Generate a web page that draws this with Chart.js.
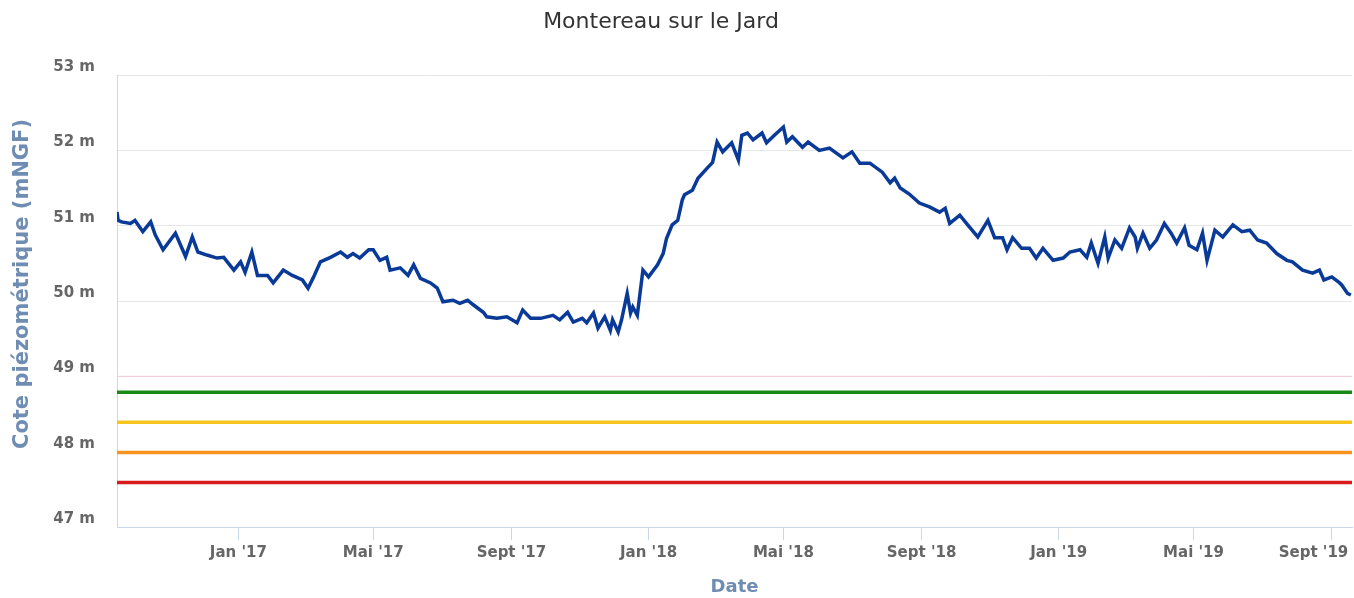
<!DOCTYPE html>
<html lang="fr">
<head>
<meta charset="utf-8">
<title>Montereau sur le Jard</title>
<script src="https://cdn.jsdelivr.net/npm/chart.js@4/dist/chart.umd.min.js"></script>
<style>
  html, body { margin: 0; padding: 0; background: #fff; }
  #wrap { width: 1354px; height: 598px; position: relative; }
</style>
</head>
<body>
<div id="wrap"><canvas id="piezoChart"></canvas></div>
<script>
// jours depuis le 1er janvier 2017
const jours = [
  -108, -107, -104, -96, -92, -85, -78, -74, -67, -56, -47, -41, -36, -28, -19, -13, -4,
  2, 6, 12, 17, 26, 31, 40, 48, 57, 62, 67, 73, 82, 91, 97, 102, 108, 116, 120, 126, 132, 135,
  144, 151, 156, 162, 171, 177, 182, 191, 197, 204, 209, 218, 221, 230, 239, 248, 253, 260,
  269, 280, 286, 293, 298, 306, 310, 316, 320, 326, 331, 333, 338, 341, 346, 349, 351, 355,
  360, 365, 373, 378, 381, 386, 391, 395, 397, 404, 409, 417, 422, 426, 431, 439, 445, 448,
  453, 458, 466, 470, 477, 485, 488, 493, 502, 507, 517, 526, 538, 546, 553, 562, 573, 580,
  584, 589, 597, 606, 615, 624, 629, 633, 642, 649, 658, 667, 673, 680, 684, 689, 697, 704,
  710, 716, 725, 734, 740, 749, 755, 759, 765, 771, 774, 780, 786, 793, 798, 800, 805, 811,
  817, 824, 830, 835, 842, 846, 853, 858, 862, 869, 876, 885, 893, 900, 907, 915, 924, 933,
  938, 947, 956, 962, 966, 973, 980, 982, 987, 990
];
// cote piézométrique (m NGF)
const cotes = [
  51.18, 51.07, 51.05, 51.03, 51.07, 50.92, 51.05, 50.88, 50.68, 50.90, 50.59, 50.85, 50.65, 50.61, 50.57, 50.58, 50.41,
  50.52, 50.38, 50.65, 50.34, 50.34, 50.24, 50.41, 50.34, 50.28, 50.17, 50.32, 50.52, 50.58, 50.65, 50.58, 50.63, 50.57, 50.68, 50.68, 50.54, 50.58, 50.41,
  50.44, 50.34, 50.48, 50.30, 50.24, 50.17, 49.99, 50.01, 49.97, 50.01, 49.95, 49.85, 49.79, 49.77, 49.79, 49.71, 49.88, 49.77,
  49.77, 49.81, 49.75, 49.85, 49.72, 49.77, 49.71, 49.84, 49.64, 49.79, 49.61, 49.75, 49.59, 49.75, 50.10, 49.84, 49.92, 49.81,
  50.41, 50.32, 50.48, 50.63, 50.83, 51.01, 51.07, 51.34, 51.41, 51.47, 51.63, 51.76, 51.84, 52.11, 51.98, 52.10, 51.87, 52.20,
  52.23, 52.14, 52.23, 52.10, 52.20, 52.31, 52.11, 52.18, 52.04, 52.11, 52.00, 52.03, 51.90, 51.98, 51.83, 51.83, 51.71, 51.57,
  51.63, 51.50, 51.42, 51.30, 51.25, 51.18, 51.23, 51.03, 51.14, 51.01, 50.85, 51.07, 50.84, 50.84, 50.68, 50.84, 50.70, 50.70,
  50.57, 50.70, 50.54, 50.57, 50.65, 50.68, 50.58, 50.77, 50.50, 50.85, 50.57, 50.81, 50.70, 50.97, 50.85, 50.70, 50.90, 50.70,
  50.81, 51.03, 50.90, 50.77, 50.97, 50.74, 50.68, 50.90, 50.54, 50.94, 50.85, 51.01, 50.92, 50.94, 50.81, 50.77, 50.63, 50.54,
  50.52, 50.41, 50.37, 50.41, 50.28, 50.32, 50.24, 50.21, 50.10, 50.08
];

// seuils de vigilance / alerte / alerte renforcée / crise
const seuils = [48.79, 48.39, 47.99, 47.59];
const couleursSeuils = ['#178a17', '#f7c51b', '#f7931e', '#d81b1b'];

// graduations de l'axe des dates
const tickJours = [0, 120, 243, 365, 485, 608, 730, 850, 973];
const tickLabels = ["Jan '17", "Mai '17", "Sept '17", "Jan '18", "Mai '18", "Sept '18", "Jan '19", "Mai '19", "Sept '19"];

const debut = -108;
const fin = 991;
const fontFamily = "'DejaVu Sans', Verdana, sans-serif";

const serie = jours.map((j, i) => ({ x: j, y: cotes[i] }));

const datasets = [{
    label: 'Cote piézométrique',
    data: serie,
    borderColor: '#0a3a98',
    borderWidth: 3.5,
    pointRadius: 0,
    tension: 0,
    fill: false
}];
// fine ligne rose à 49 m
datasets.push({
    label: 'repère',
    data: [{ x: debut, y: 49.0 }, { x: fin, y: 49.0 }],
    borderColor: '#f8c8d4',
    borderWidth: 1,
    pointRadius: 0
});
seuils.forEach((s, i) => {
    datasets.push({
        label: 'seuil ' + s,
        data: [{ x: debut, y: s }, { x: fin, y: s }],
        borderColor: couleursSeuils[i],
        borderWidth: 3.5,
        pointRadius: 0
    });
});

// titre du graphique et titre de l'axe vertical, placés à la main
const titresPlugin = {
    id: 'titres',
    afterDraw(chart) {
        const ctx = chart.ctx;
        ctx.save();
        ctx.font = '22px ' + fontFamily;
        ctx.fillStyle = '#333333';
        ctx.textAlign = 'center';
        ctx.textBaseline = 'middle';
        ctx.fillText('Montereau sur le Jard', 661, 22);

        ctx.translate(23, 284);
        ctx.rotate(-Math.PI / 2);
        ctx.font = 'bold 21px ' + fontFamily;
        ctx.fillStyle = '#6f8db3';
        ctx.fillText('Cote piézométrique (mNGF)', 0, 0);
        ctx.restore();
    }
};

const ctx = document.getElementById('piezoChart').getContext('2d');
new Chart(ctx, {
    type: 'line',
    data: { datasets: datasets },
    plugins: [titresPlugin],
    options: {
        responsive: true,
        maintainAspectRatio: false,
        animation: false,
        layout: { padding: { top: 75, right: 2, bottom: 0, left: 0 } },
        plugins: {
            legend: { display: false },
            tooltip: { enabled: false },
            title: { display: false }
        },
        scales: {
            x: {
                type: 'linear',
                min: debut,
                max: fin,
                afterBuildTicks: scale => {
                    scale.ticks = tickJours.map(v => ({ value: v }));
                },
                afterFit: scale => {
                    scale.height = 71;
                    scale.paddingLeft = 0;
                    scale.paddingRight = 0;
                },
                ticks: {
                    autoSkip: false,
                    maxRotation: 0,
                    padding: 4,
                    color: '#666666',
                    font: { family: fontFamily, size: 15, weight: 'bold' },
                    callback: function(value) {
                        const i = tickJours.indexOf(value);
                        if (i < 0) return '';
                        // dernier libellé gardé dans le cadre, comme sur l'original
                        return i === tickLabels.length - 1 ? tickLabels[i] + '       ' : tickLabels[i];
                    }
                },
                grid: {
                    drawOnChartArea: false,
                    drawTicks: true,
                    tickLength: 13,
                    color: '#ccd6eb'
                },
                border: { color: '#ccd6eb' },
                title: {
                    display: true,
                    text: 'Date',
                    color: '#6f8db3',
                    font: { family: fontFamily, size: 18, weight: 'bold' },
                    padding: { top: 0, bottom: 0 }
                }
            },
            y: {
                min: 47,
                max: 53,
                afterFit: scale => { scale.width = 117; },
                ticks: {
                    stepSize: 1,
                    padding: 22,
                    labelOffset: -8,
                    color: '#666666',
                    font: { family: fontFamily, size: 15, weight: 'bold' },
                    callback: value => value + ' m'
                },
                grid: {
                    color: '#e6e6e6',
                    drawTicks: false
                },
                border: { color: '#ccd6eb' },
                title: { display: false }
            }
        }
    }
});
</script>
</body>
</html>
